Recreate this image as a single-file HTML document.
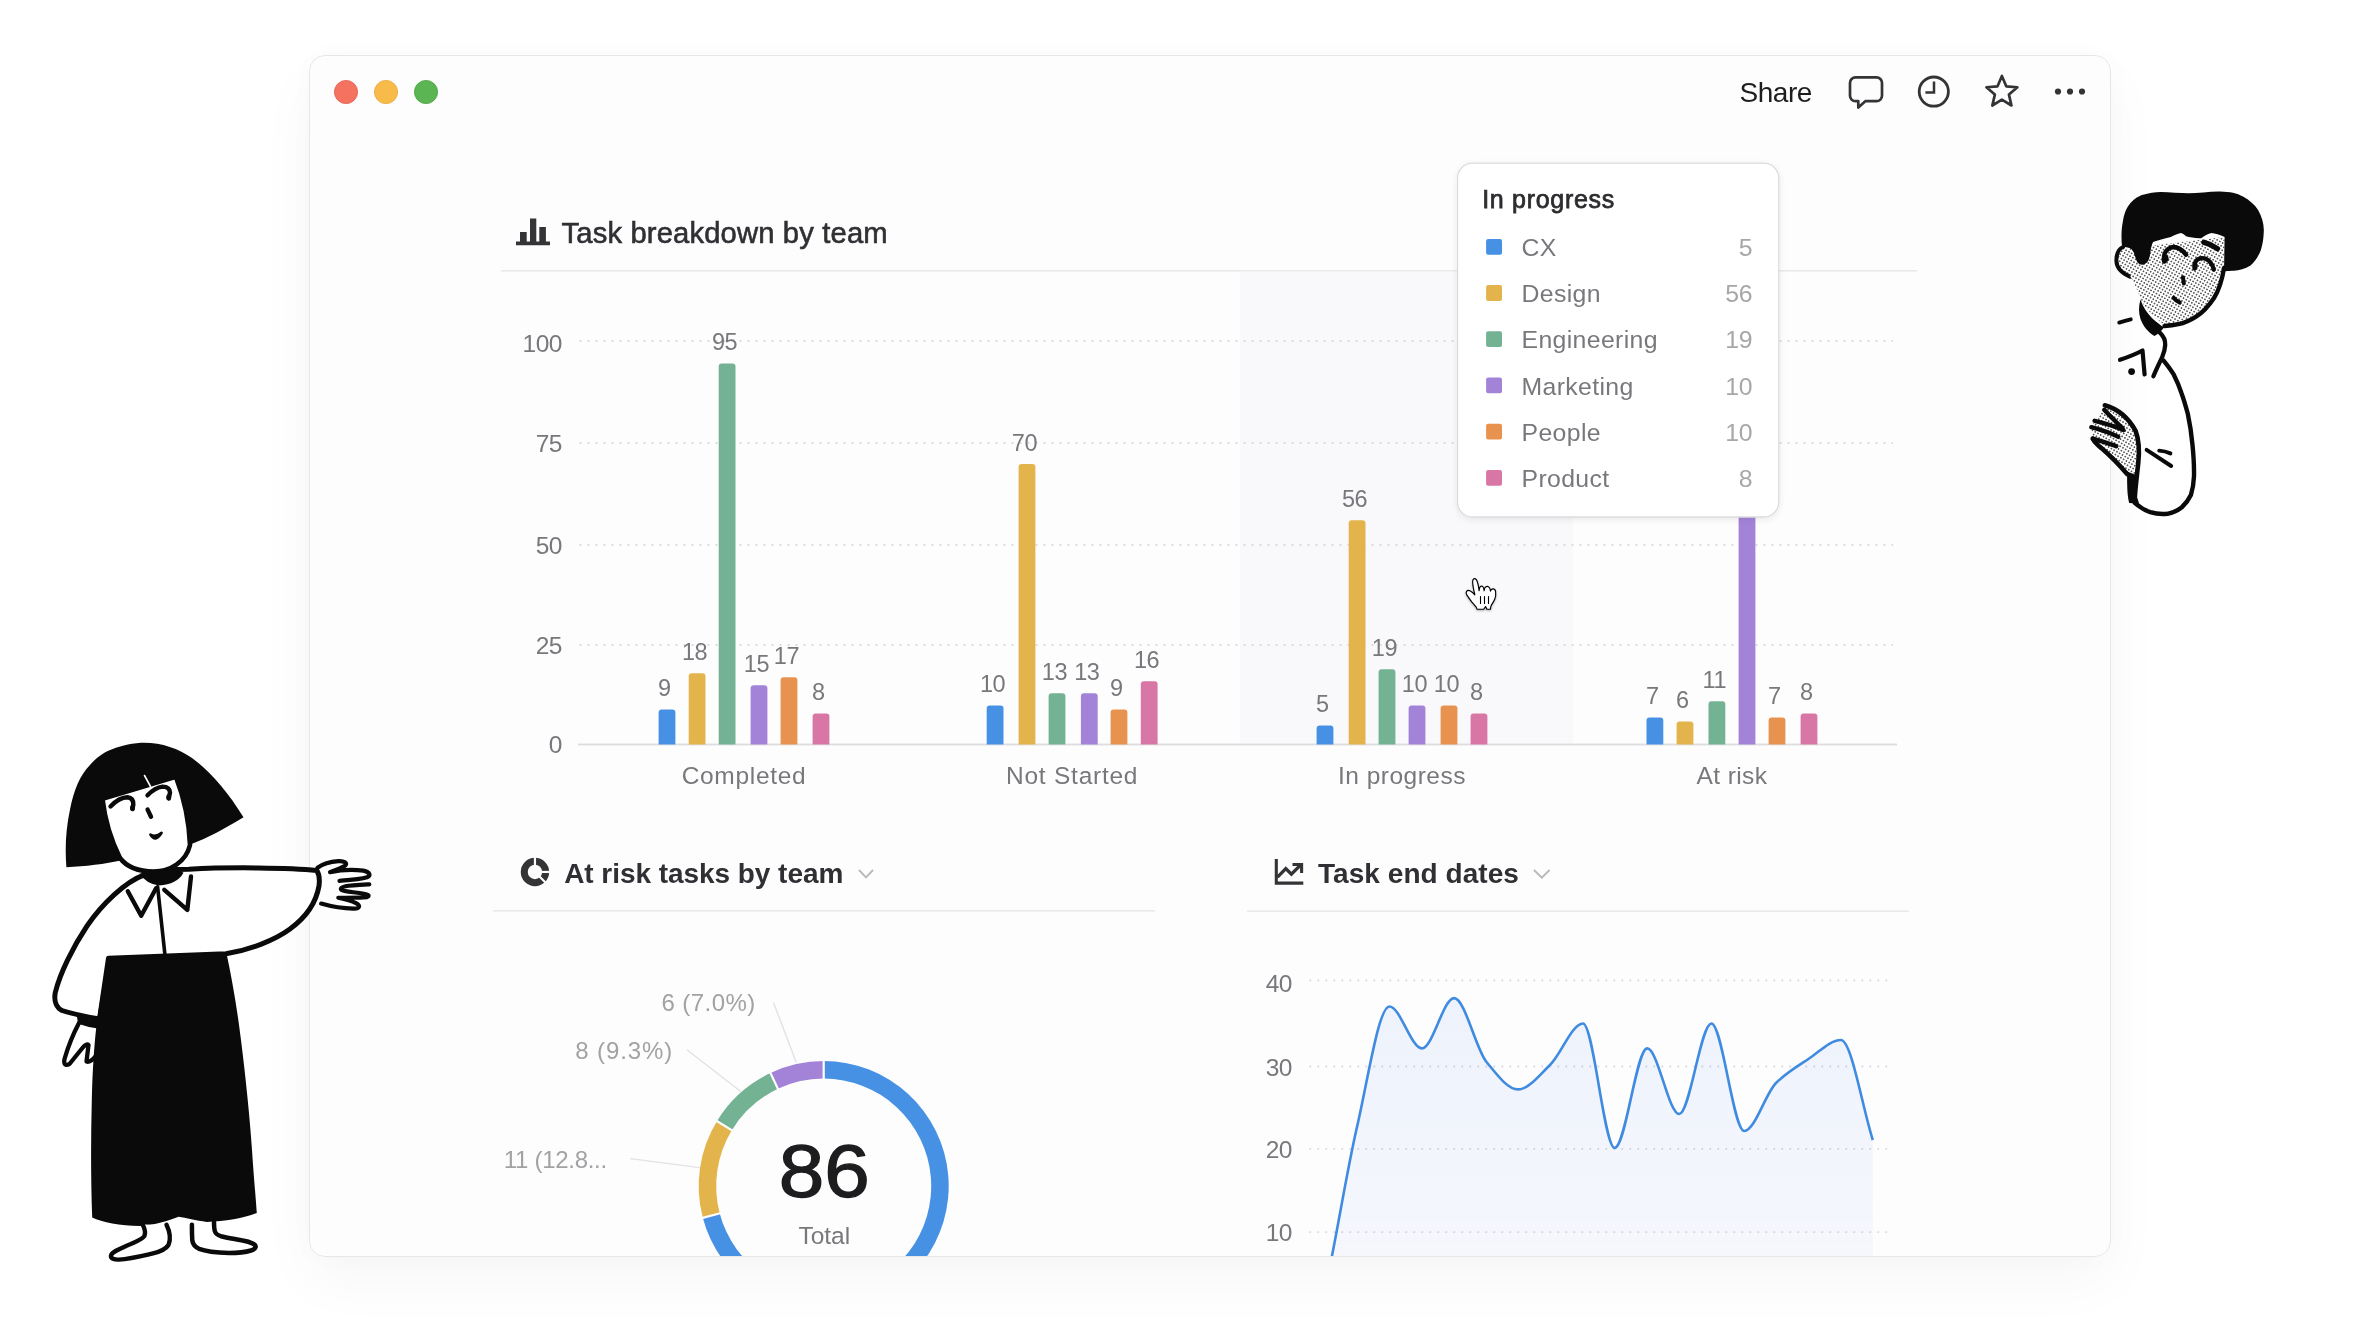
<!DOCTYPE html>
<html><head><meta charset="utf-8"><title>Task breakdown</title>
<style>
html,body{margin:0;padding:0;}
body{width:2370px;height:1344px;overflow:hidden;background:#ffffff;position:relative;font-family:"Liberation Sans", Arial, sans-serif;}
#shadow{position:absolute;left:309px;top:54.5px;width:1802px;height:1202.5px;border-radius:16px;box-shadow:0 24px 60px rgba(0,0,0,0.035),0 0 30px rgba(0,0,0,0.02);}
#win{position:absolute;left:309px;top:54.5px;width:1802px;height:1202.5px;border-radius:16px;overflow:hidden;background:#fefdfe;}
#win svg{position:absolute;left:-309px;top:-54.5px;will-change:transform;}
#border{position:absolute;left:309px;top:54.5px;width:1802px;height:1202.5px;border-radius:16px;box-sizing:border-box;border:1.5px solid #e7e6e8;}
svg text{font-family:"Liberation Sans", Arial, sans-serif;}
#top{position:absolute;left:0;top:0;}
</style></head>
<body>
<div id="shadow"></div>
<div id="win">
<svg width="2370" height="1344" viewBox="0 0 2370 1344">
<defs><filter id="tsh" x="-10%" y="-10%" width="120%" height="125%"><feDropShadow dx="0" dy="2" stdDeviation="3" flood-color="#000" flood-opacity="0.08"/></filter></defs>
<circle cx="346" cy="92" r="11.6" fill="#f4725f" stroke="#e0604f" stroke-width="0.8"/>
<circle cx="386" cy="92" r="11.6" fill="#f8bb49" stroke="#e5a73a" stroke-width="0.8"/>
<circle cx="426" cy="92" r="11.6" fill="#5bb552" stroke="#4aa342" stroke-width="0.8"/>
<text x="1739.5" y="101.9" font-size="28" fill="#1e1e1e" text-anchor="start" font-weight="400" letter-spacing="-0.45">Share</text>
<path d="M1856,77.4 H1876.5 A5.5,5.5 0 0 1 1882,82.9 V95.7 A5.5,5.5 0 0 1 1876.5,101.2 H1865.3 L1858.3,107.6 V101.2 H1855.5 A5.5,5.5 0 0 1 1850,95.7 V82.9 A5.5,5.5 0 0 1 1855.5,77.4 Z" fill="none" stroke="#343336" stroke-width="2.7" stroke-linejoin="round"/>
<circle cx="1933.8" cy="91.6" r="14.6" fill="none" stroke="#343336" stroke-width="2.8"/>
<path d="M1934,81.5 V92.4 H1925.4" fill="none" stroke="#343336" stroke-width="2.5"/>
<polygon points="2001.90,76.00 2006.25,86.31 2017.40,87.26 2008.94,94.59 2011.48,105.49 2001.90,99.70 1992.32,105.49 1994.86,94.59 1986.40,87.26 1997.55,86.31" fill="none" stroke="#343336" stroke-width="2.7" stroke-linejoin="round"/>
<circle cx="2058" cy="91.5" r="3.1" fill="#343336"/>
<circle cx="2070" cy="91.5" r="3.1" fill="#343336"/>
<circle cx="2082" cy="91.5" r="3.1" fill="#343336"/>
<path d="M516,241.4 H550 V245.2 H516 Z M520,232 H526.7 V242 H520 Z M530,218.6 H536.3 V242 H530 Z M539.3,227 H545.9 V242 H539.3 Z" fill="#343336"/>
<text x="561.6" y="242.5" font-size="29.2" fill="#302f33" text-anchor="start" font-weight="400" letter-spacing="0.15" stroke="#302f33" stroke-width="0.6">Task breakdown by team</text>
<rect x="501" y="270" width="1416" height="1.6" fill="#e9e8ea"/>
<rect x="1240" y="271.6" width="333" height="473" fill="#f9f8fa"/>
<line x1="579.6" y1="341" x2="1893" y2="341" stroke="#d9d8db" stroke-width="1.8" stroke-dasharray="1.8 6.2"/>
<line x1="579.6" y1="443" x2="1893" y2="443" stroke="#d9d8db" stroke-width="1.8" stroke-dasharray="1.8 6.2"/>
<line x1="579.6" y1="545" x2="1893" y2="545" stroke="#d9d8db" stroke-width="1.8" stroke-dasharray="1.8 6.2"/>
<line x1="579.6" y1="645" x2="1893" y2="645" stroke="#d9d8db" stroke-width="1.8" stroke-dasharray="1.8 6.2"/>
<rect x="578" y="743.6" width="1319" height="1.8" fill="#dddcdf"/>
<text x="561.7" y="352.2" font-size="24.5" fill="#78777b" text-anchor="end" font-weight="400" letter-spacing="-0.6">100</text>
<text x="561.7" y="451.9" font-size="24.5" fill="#78777b" text-anchor="end" font-weight="400" letter-spacing="-0.6">75</text>
<text x="561.7" y="553.6" font-size="24.5" fill="#78777b" text-anchor="end" font-weight="400" letter-spacing="-0.6">50</text>
<text x="561.7" y="653.6" font-size="24.5" fill="#78777b" text-anchor="end" font-weight="400" letter-spacing="-0.6">25</text>
<text x="561.7" y="753.2" font-size="24.5" fill="#78777b" text-anchor="end" font-weight="400" letter-spacing="-0.6">0</text>
<path d="M658.60,744.5 V712.40 Q658.60,709.40 661.60,709.40 H672.40 Q675.40,709.40 675.40,712.40 V744.5 Z" fill="#4791e5"/>
<text x="664.4" y="696.2" font-size="23.5" fill="#78777b" text-anchor="middle" font-weight="400" letter-spacing="-0.5">9</text>
<path d="M688.70,744.5 V676.20 Q688.70,673.20 691.70,673.20 H702.50 Q705.50,673.20 705.50,676.20 V744.5 Z" fill="#e3b44c"/>
<text x="694.5" y="660.0" font-size="23.5" fill="#78777b" text-anchor="middle" font-weight="400" letter-spacing="-0.5">18</text>
<path d="M718.70,744.5 V366.51 Q718.70,363.51 721.70,363.51 H732.50 Q735.50,363.51 735.50,366.51 V744.5 Z" fill="#74b294"/>
<text x="724.5" y="350.31" font-size="23.5" fill="#78777b" text-anchor="middle" font-weight="400" letter-spacing="-0.5">95</text>
<path d="M750.60,744.5 V688.27 Q750.60,685.27 753.60,685.27 H764.40 Q767.40,685.27 767.40,688.27 V744.5 Z" fill="#a383d8"/>
<text x="756.4" y="672.07" font-size="23.5" fill="#78777b" text-anchor="middle" font-weight="400" letter-spacing="-0.5">15</text>
<path d="M780.60,744.5 V680.23 Q780.60,677.23 783.60,677.23 H794.40 Q797.40,677.23 797.40,680.23 V744.5 Z" fill="#e7934f"/>
<text x="786.4" y="664.03" font-size="23.5" fill="#78777b" text-anchor="middle" font-weight="400" letter-spacing="-0.5">17</text>
<path d="M812.60,744.5 V716.42 Q812.60,713.42 815.60,713.42 H826.40 Q829.40,713.42 829.40,716.42 V744.5 Z" fill="#d876a6"/>
<text x="818.4" y="700.22" font-size="23.5" fill="#78777b" text-anchor="middle" font-weight="400" letter-spacing="-0.5">8</text>
<text x="744.0" y="784" font-size="24.5" fill="#78777b" text-anchor="middle" font-weight="400" letter-spacing="0.69">Completed</text>
<path d="M986.70,744.5 V708.38 Q986.70,705.38 989.70,705.38 H1000.50 Q1003.50,705.38 1003.50,708.38 V744.5 Z" fill="#4791e5"/>
<text x="992.5" y="692.18" font-size="23.5" fill="#78777b" text-anchor="middle" font-weight="400" letter-spacing="-0.5">10</text>
<path d="M1018.60,744.5 V467.06 Q1018.60,464.06 1021.60,464.06 H1032.40 Q1035.40,464.06 1035.40,467.06 V744.5 Z" fill="#e3b44c"/>
<text x="1024.4" y="450.86" font-size="23.5" fill="#78777b" text-anchor="middle" font-weight="400" letter-spacing="-0.5">70</text>
<path d="M1048.60,744.5 V696.31 Q1048.60,693.31 1051.60,693.31 H1062.40 Q1065.40,693.31 1065.40,696.31 V744.5 Z" fill="#74b294"/>
<text x="1054.4" y="680.11" font-size="23.5" fill="#78777b" text-anchor="middle" font-weight="400" letter-spacing="-0.5">13</text>
<path d="M1080.90,744.5 V696.31 Q1080.90,693.31 1083.90,693.31 H1094.70 Q1097.70,693.31 1097.70,696.31 V744.5 Z" fill="#a383d8"/>
<text x="1086.7" y="680.11" font-size="23.5" fill="#78777b" text-anchor="middle" font-weight="400" letter-spacing="-0.5">13</text>
<path d="M1110.60,744.5 V712.40 Q1110.60,709.40 1113.60,709.40 H1124.40 Q1127.40,709.40 1127.40,712.40 V744.5 Z" fill="#e7934f"/>
<text x="1116.4" y="696.2" font-size="23.5" fill="#78777b" text-anchor="middle" font-weight="400" letter-spacing="-0.5">9</text>
<path d="M1140.80,744.5 V684.25 Q1140.80,681.25 1143.80,681.25 H1154.60 Q1157.60,681.25 1157.60,684.25 V744.5 Z" fill="#d876a6"/>
<text x="1146.6" y="668.05" font-size="23.5" fill="#78777b" text-anchor="middle" font-weight="400" letter-spacing="-0.5">16</text>
<text x="1072.15" y="784" font-size="24.5" fill="#78777b" text-anchor="middle" font-weight="400" letter-spacing="0.75">Not Started</text>
<path d="M1316.60,744.5 V728.49 Q1316.60,725.49 1319.60,725.49 H1330.40 Q1333.40,725.49 1333.40,728.49 V744.5 Z" fill="#4791e5"/>
<text x="1322.4" y="712.29" font-size="23.5" fill="#78777b" text-anchor="middle" font-weight="400" letter-spacing="-0.5">5</text>
<path d="M1348.70,744.5 V523.37 Q1348.70,520.37 1351.70,520.37 H1362.50 Q1365.50,520.37 1365.50,523.37 V744.5 Z" fill="#e3b44c"/>
<text x="1354.5" y="507.17" font-size="23.5" fill="#78777b" text-anchor="middle" font-weight="400" letter-spacing="-0.5">56</text>
<path d="M1378.60,744.5 V672.18 Q1378.60,669.18 1381.60,669.18 H1392.40 Q1395.40,669.18 1395.40,672.18 V744.5 Z" fill="#74b294"/>
<text x="1384.4" y="655.98" font-size="23.5" fill="#78777b" text-anchor="middle" font-weight="400" letter-spacing="-0.5">19</text>
<path d="M1408.60,744.5 V708.38 Q1408.60,705.38 1411.60,705.38 H1422.40 Q1425.40,705.38 1425.40,708.38 V744.5 Z" fill="#a383d8"/>
<text x="1414.4" y="692.18" font-size="23.5" fill="#78777b" text-anchor="middle" font-weight="400" letter-spacing="-0.5">10</text>
<path d="M1440.60,744.5 V708.38 Q1440.60,705.38 1443.60,705.38 H1454.40 Q1457.40,705.38 1457.40,708.38 V744.5 Z" fill="#e7934f"/>
<text x="1446.4" y="692.18" font-size="23.5" fill="#78777b" text-anchor="middle" font-weight="400" letter-spacing="-0.5">10</text>
<path d="M1470.60,744.5 V716.42 Q1470.60,713.42 1473.60,713.42 H1484.40 Q1487.40,713.42 1487.40,716.42 V744.5 Z" fill="#d876a6"/>
<text x="1476.4" y="700.22" font-size="23.5" fill="#78777b" text-anchor="middle" font-weight="400" letter-spacing="-0.5">8</text>
<text x="1402.0" y="784" font-size="24.5" fill="#78777b" text-anchor="middle" font-weight="400" letter-spacing="0.48">In progress</text>
<path d="M1646.50,744.5 V720.45 Q1646.50,717.45 1649.50,717.45 H1660.30 Q1663.30,717.45 1663.30,720.45 V744.5 Z" fill="#4791e5"/>
<text x="1652.3" y="704.25" font-size="23.5" fill="#78777b" text-anchor="middle" font-weight="400" letter-spacing="-0.5">7</text>
<path d="M1676.60,744.5 V724.47 Q1676.60,721.47 1679.60,721.47 H1690.40 Q1693.40,721.47 1693.40,724.47 V744.5 Z" fill="#e3b44c"/>
<text x="1682.4" y="708.27" font-size="23.5" fill="#78777b" text-anchor="middle" font-weight="400" letter-spacing="-0.5">6</text>
<path d="M1708.50,744.5 V704.36 Q1708.50,701.36 1711.50,701.36 H1722.30 Q1725.30,701.36 1725.30,704.36 V744.5 Z" fill="#74b294"/>
<text x="1714.3" y="688.16" font-size="23.5" fill="#78777b" text-anchor="middle" font-weight="400" letter-spacing="-0.5">11</text>
<path d="M1738.60,744.5 V499.24 Q1738.60,496.24 1741.60,496.24 H1752.40 Q1755.40,496.24 1755.40,499.24 V744.5 Z" fill="#a383d8"/>
<path d="M1768.60,744.5 V720.45 Q1768.60,717.45 1771.60,717.45 H1782.40 Q1785.40,717.45 1785.40,720.45 V744.5 Z" fill="#e7934f"/>
<text x="1774.4" y="704.25" font-size="23.5" fill="#78777b" text-anchor="middle" font-weight="400" letter-spacing="-0.5">7</text>
<path d="M1800.60,744.5 V716.42 Q1800.60,713.42 1803.60,713.42 H1814.40 Q1817.40,713.42 1817.40,716.42 V744.5 Z" fill="#d876a6"/>
<text x="1806.4" y="700.22" font-size="23.5" fill="#78777b" text-anchor="middle" font-weight="400" letter-spacing="-0.5">8</text>
<text x="1731.95" y="784" font-size="24.5" fill="#78777b" text-anchor="middle" font-weight="400" letter-spacing="0.42">At risk</text>
<path d="M520.75,871.95 a14.2,14.2 0 1 0 28.4,0 a14.2,14.2 0 1 0 -28.4,0 Z M527.75,871.95 a7.2,7.2 0 1 0 14.4,0 a7.2,7.2 0 1 0 -14.4,0 Z" fill="#343336" fill-rule="evenodd"/>
<line x1="534.95" y1="871.95" x2="534.95" y2="855.95" stroke="#fefdfe" stroke-width="2.2"/>
<line x1="534.95" y1="871.95" x2="550.95" y2="871.95" stroke="#fefdfe" stroke-width="2.2"/>
<line x1="534.95" y1="871.95" x2="546.26" y2="883.26" stroke="#fefdfe" stroke-width="2.2"/>
<text x="564.2" y="882.8" font-size="28" fill="#302f33" text-anchor="start" font-weight="700" letter-spacing="-0.05">At risk tasks by team</text>
<path d="M859,870 L866,877.3 L873,870" fill="none" stroke="#b9b8bb" stroke-width="1.9"/>
<rect x="493" y="910" width="662" height="1.6" fill="#e9e8ea"/>
<path d="M823.70,1061.10 A125,125 0 1 1 702.79,1217.82 L719.72,1213.38 A107.5,107.5 0 1 0 823.70,1078.60 Z" fill="#4791e5"/>
<path d="M702.79,1217.82 A125,125 0 0 1 716.89,1121.16 L731.85,1130.25 A107.5,107.5 0 0 0 719.72,1213.38 Z" fill="#e3b44c"/>
<path d="M716.89,1121.16 A125,125 0 0 1 770.48,1073.00 L777.93,1088.83 A107.5,107.5 0 0 0 731.85,1130.25 Z" fill="#74b294"/>
<path d="M770.48,1073.00 A125,125 0 0 1 823.70,1061.10 L823.70,1078.60 A107.5,107.5 0 0 0 777.93,1088.83 Z" fill="#a383d8"/>
<line x1="823.70" y1="1086.10" x2="823.70" y2="1056.10" stroke="#fefdfe" stroke-width="2.2"/>
<line x1="726.97" y1="1211.48" x2="697.96" y2="1219.09" stroke="#fefdfe" stroke-width="2.2"/>
<line x1="738.25" y1="1134.15" x2="712.62" y2="1118.56" stroke="#fefdfe" stroke-width="2.2"/>
<line x1="781.12" y1="1095.62" x2="768.35" y2="1068.47" stroke="#fefdfe" stroke-width="2.2"/>
<line x1="773.5" y1="1002.4" x2="796.3" y2="1062.6" stroke="#e2e1e4" stroke-width="1.4"/>
<line x1="686.9" y1="1049.7" x2="741.1" y2="1091.7" stroke="#e2e1e4" stroke-width="1.4"/>
<line x1="630.2" y1="1158.6" x2="699.8" y2="1167.6" stroke="#e2e1e4" stroke-width="1.4"/>
<text x="661.4" y="1011.3" font-size="24" fill="#a2a1a4" text-anchor="start" font-weight="400" letter-spacing="0.45">6 (7.0%)</text>
<text x="575.2" y="1059.3" font-size="24" fill="#a2a1a4" text-anchor="start" font-weight="400" letter-spacing="0.9">8 (9.3%)</text>
<text x="503.8" y="1167.6" font-size="24" fill="#a2a1a4" text-anchor="start" font-weight="400" letter-spacing="-0.3">11 (12.8...</text>
<text x="824.3" y="1197.4" font-size="73.5" fill="#1d1c1f" text-anchor="middle" font-weight="400" textLength="91" lengthAdjust="spacingAndGlyphs" stroke="#1d1c1f" stroke-width="1.3">86</text>
<text x="824.3" y="1243.5" font-size="24.5" fill="#78777b" text-anchor="middle" font-weight="400" >Total</text>
<path d="M1276.3,859.1 V883.1 H1303.3" fill="none" stroke="#343336" stroke-width="3.1"/>
<path d="M1277.5,877.2 L1285.8,868.6 L1291.4,874.2 L1301.2,864.4" fill="none" stroke="#343336" stroke-width="3.3"/>
<path d="M1292.5,864.5 H1301.6 V873" fill="none" stroke="#343336" stroke-width="3.1"/>
<text x="1318" y="883.1" font-size="28" fill="#302f33" text-anchor="start" font-weight="700" letter-spacing="0.05">Task end dates</text>
<path d="M1534,870 L1541.8,877.6 L1549.6,870" fill="none" stroke="#b9b8bb" stroke-width="1.9"/>
<rect x="1247" y="910.4" width="662" height="1.6" fill="#e9e8ea"/>
<line x1="1309.4" y1="980.5" x2="1888" y2="980.5" stroke="#d9d8db" stroke-width="1.8" stroke-dasharray="1.8 6.2"/>
<line x1="1309.4" y1="1066.5" x2="1888" y2="1066.5" stroke="#d9d8db" stroke-width="1.8" stroke-dasharray="1.8 6.2"/>
<line x1="1309.4" y1="1148.8" x2="1888" y2="1148.8" stroke="#d9d8db" stroke-width="1.8" stroke-dasharray="1.8 6.2"/>
<line x1="1309.4" y1="1232.2" x2="1888" y2="1232.2" stroke="#d9d8db" stroke-width="1.8" stroke-dasharray="1.8 6.2"/>
<text x="1291.8" y="992.4" font-size="24.5" fill="#78777b" text-anchor="end" font-weight="400" letter-spacing="-0.6">40</text>
<text x="1291.8" y="1075.8" font-size="24.5" fill="#78777b" text-anchor="end" font-weight="400" letter-spacing="-0.6">30</text>
<text x="1291.8" y="1157.8" font-size="24.5" fill="#78777b" text-anchor="end" font-weight="400" letter-spacing="-0.6">20</text>
<text x="1291.8" y="1241.2" font-size="24.5" fill="#78777b" text-anchor="end" font-weight="400" letter-spacing="-0.6">10</text>
<defs><linearGradient id="lg" x1="0" y1="0" x2="0" y2="1"><stop offset="0" stop-color="#4a86e8" stop-opacity="0.09"/><stop offset="1" stop-color="#4a86e8" stop-opacity="0.02"/></linearGradient></defs>
<path d="M1292.20,1420.00 C1303.00,1377.33 1313.80,1340.05 1324.60,1292.00 C1335.40,1243.95 1346.20,1173.43 1357.00,1127.00 C1367.80,1080.57 1378.60,1006.50 1389.40,1006.50 C1400.23,1006.50 1411.07,1048.40 1421.90,1048.40 C1432.63,1048.40 1443.37,998.10 1454.10,998.10 C1464.90,998.10 1475.70,1048.99 1486.50,1062.00 C1497.00,1074.65 1507.50,1089.40 1518.00,1089.40 C1528.67,1089.40 1539.33,1075.11 1550.00,1065.00 C1561.00,1054.57 1572.00,1023.50 1583.00,1023.50 C1593.57,1023.50 1604.13,1147.90 1614.70,1147.90 C1625.53,1147.90 1636.37,1048.40 1647.20,1048.40 C1657.87,1048.40 1668.53,1114.00 1679.20,1114.00 C1689.93,1114.00 1700.67,1023.50 1711.40,1023.50 C1722.33,1023.50 1733.27,1131.00 1744.20,1131.00 C1754.80,1131.00 1765.40,1093.55 1776.00,1083.00 C1786.80,1072.26 1797.60,1066.06 1808.40,1059.00 C1819.23,1051.92 1830.07,1040.00 1840.90,1040.00 C1851.53,1040.00 1862.17,1106.67 1872.80,1140.00 L1872.8,1300 L1292.2,1300 Z" fill="url(#lg)"/>
<path d="M1292.20,1420.00 C1303.00,1377.33 1313.80,1340.05 1324.60,1292.00 C1335.40,1243.95 1346.20,1173.43 1357.00,1127.00 C1367.80,1080.57 1378.60,1006.50 1389.40,1006.50 C1400.23,1006.50 1411.07,1048.40 1421.90,1048.40 C1432.63,1048.40 1443.37,998.10 1454.10,998.10 C1464.90,998.10 1475.70,1048.99 1486.50,1062.00 C1497.00,1074.65 1507.50,1089.40 1518.00,1089.40 C1528.67,1089.40 1539.33,1075.11 1550.00,1065.00 C1561.00,1054.57 1572.00,1023.50 1583.00,1023.50 C1593.57,1023.50 1604.13,1147.90 1614.70,1147.90 C1625.53,1147.90 1636.37,1048.40 1647.20,1048.40 C1657.87,1048.40 1668.53,1114.00 1679.20,1114.00 C1689.93,1114.00 1700.67,1023.50 1711.40,1023.50 C1722.33,1023.50 1733.27,1131.00 1744.20,1131.00 C1754.80,1131.00 1765.40,1093.55 1776.00,1083.00 C1786.80,1072.26 1797.60,1066.06 1808.40,1059.00 C1819.23,1051.92 1830.07,1040.00 1840.90,1040.00 C1851.53,1040.00 1862.17,1106.67 1872.80,1140.00" fill="none" stroke="#3f8be0" stroke-width="2.6"/>
<rect x="1457.5" y="163.2" width="321.3" height="353.8" rx="15" fill="#ffffff" stroke="#dbdadd" stroke-width="1.3" filter="url(#tsh)"/>
<text x="1482.2" y="208" font-size="25" fill="#2c2b2e" text-anchor="start" font-weight="400" letter-spacing="0.7" stroke="#2c2b2e" stroke-width="0.75">In progress</text>
<rect x="1486.1" y="238.90" width="15.9" height="15.8" rx="2" fill="#4791e5"/>
<text x="1521.6" y="256.0" font-size="24.8" fill="#78777b" text-anchor="start" font-weight="400" letter-spacing="0.35">CX</text>
<text x="1752.3" y="256.0" font-size="24.8" fill="#a7a6a9" text-anchor="end" font-weight="400" letter-spacing="-0.3">5</text>
<rect x="1486.1" y="285.10" width="15.9" height="15.8" rx="2" fill="#e3b44c"/>
<text x="1521.6" y="302.2" font-size="24.8" fill="#78777b" text-anchor="start" font-weight="400" letter-spacing="0.35">Design</text>
<text x="1752.3" y="302.2" font-size="24.8" fill="#a7a6a9" text-anchor="end" font-weight="400" letter-spacing="-0.3">56</text>
<rect x="1486.1" y="331.30" width="15.9" height="15.8" rx="2" fill="#74b294"/>
<text x="1521.6" y="348.4" font-size="24.8" fill="#78777b" text-anchor="start" font-weight="400" letter-spacing="0.35">Engineering</text>
<text x="1752.3" y="348.4" font-size="24.8" fill="#a7a6a9" text-anchor="end" font-weight="400" letter-spacing="-0.3">19</text>
<rect x="1486.1" y="377.50" width="15.9" height="15.8" rx="2" fill="#a383d8"/>
<text x="1521.6" y="394.6" font-size="24.8" fill="#78777b" text-anchor="start" font-weight="400" letter-spacing="0.35">Marketing</text>
<text x="1752.3" y="394.6" font-size="24.8" fill="#a7a6a9" text-anchor="end" font-weight="400" letter-spacing="-0.3">10</text>
<rect x="1486.1" y="423.70" width="15.9" height="15.8" rx="2" fill="#e7934f"/>
<text x="1521.6" y="440.8" font-size="24.8" fill="#78777b" text-anchor="start" font-weight="400" letter-spacing="0.35">People</text>
<text x="1752.3" y="440.8" font-size="24.8" fill="#a7a6a9" text-anchor="end" font-weight="400" letter-spacing="-0.3">10</text>
<rect x="1486.1" y="469.90" width="15.9" height="15.8" rx="2" fill="#d876a6"/>
<text x="1521.6" y="487.0" font-size="24.8" fill="#78777b" text-anchor="start" font-weight="400" letter-spacing="0.35">Product</text>
<text x="1752.3" y="487.0" font-size="24.8" fill="#a7a6a9" text-anchor="end" font-weight="400" letter-spacing="-0.3">8</text>
</svg>
</div>
<div id="border"></div>
<svg id="top" width="2370" height="1344" viewBox="0 0 2370 1344">
<defs>
<pattern id="dots" width="3.2" height="3.2" patternUnits="userSpaceOnUse" patternTransform="rotate(30)">
<rect width="3.2" height="3.2" fill="#ffffff"/><circle cx="1.6" cy="1.6" r="0.74" fill="#111"/></pattern>
</defs>
<path d="M144.2,874.9 C125,882 102,904 87,926 C73,947 60,973 55.3,992.5 C53.5,1002 57,1008 62,1010.5 C74,1014.5 88,1017 99.5,1019 L108.5,958.2 L226,953.8 C250,950 275,940 290,929 C305,918 316,903 319,886 C320,878 318.5,873 316.8,870.5 C290,867.6 230,867 188.8,869.2 L176.5,869.5 Z" fill="#fff" stroke="#0a0a0a" stroke-linecap="round" stroke-linejoin="round" stroke-width="5.0"/>
<path d="M127.8,891.3 L141.2,915.8 L156.1,888.3 M164.3,889.8 L187.3,909.9 L191,876.4" fill="none" stroke="#0a0a0a" stroke-linecap="round" stroke-linejoin="round" stroke-width="4.4"/>
<path d="M157.6,886.8 L165,955.2" fill="none" stroke="#0a0a0a" stroke-linecap="round" stroke-linejoin="round" stroke-width="3.6"/>
<path d="M139.5,873.8 Q156,870 170,869.2 L177,868.8 L183.5,872.8 Q177,884.5 159,885.4 Q147,884.5 139.5,873.8 Z" fill="#0a0a0a"/>
<path d="M175.9,776.8 C183,795 189,820 190,845 C186,862 170,871.5 153.7,871.5 C137,871.5 126,866 120,858 C112,842 105,820 102.5,798.9 Z" fill="#fff" stroke="#0a0a0a" stroke-linecap="round" stroke-linejoin="round" stroke-width="4.6"/>
<path d="M66.4,867.3 C65,850 65.5,830 70.2,808.4 C74,790 80,775 90,765 C100,753 115,745 141.1,742.7 C160,742 178,748 192,758 C210,771 228,792 243.5,817.3 C226,828 208,838 190.4,844.5 C189,820 184,798 175.9,776.8 C152,786 128,794 102.5,798.9 C106,825 113,845 122.1,860.3 C105,864 85,866.5 66.4,867.3 Z" fill="#0a0a0a"/>
<path d="M144.5,775.5 L150.5,786.5" stroke="#fff" stroke-width="1.6" stroke-linecap="round"/>
<path d="M110.5,806.5 Q119,797.5 127.5,797.3 Q133.5,798 133.3,804.5 L132.5,809" fill="none" stroke="#0a0a0a" stroke-linecap="round" stroke-linejoin="round" stroke-width="4.4"/>
<ellipse cx="132.4" cy="808" rx="2.4" ry="3" fill="#0a0a0a"/>
<path d="M147.5,795.3 Q155,787.5 162.5,786.6 Q169.8,786.8 170,792.5 L168.8,798.5" fill="none" stroke="#0a0a0a" stroke-linecap="round" stroke-linejoin="round" stroke-width="4.4"/>
<ellipse cx="168.6" cy="797.3" rx="2.4" ry="3" fill="#0a0a0a"/>
<path d="M147.6,809.6 L151,816.8" fill="none" stroke="#0a0a0a" stroke-linecap="round" stroke-linejoin="round" stroke-width="4.4"/>
<path d="M150.4,834.6 Q155.5,843 161.6,832.8 Q156,837.5 150.4,834.6 Z" fill="#0a0a0a" stroke="#0a0a0a" stroke-linecap="round" stroke-linejoin="round" stroke-width="2.6"/>
<path d="M79,1023 Q70,1040 64.5,1059 Q63,1067 69.5,1064 L82,1048.5 Q86.5,1043 88.5,1045 L86.5,1061.5 Q90,1063 96,1056" fill="#fff" stroke="#0a0a0a" stroke-linecap="round" stroke-linejoin="round" stroke-width="4.3"/>
<path d="M77,1016.5 Q88,1019.5 100,1020.5 L99.5,1028.8 Q88,1027.5 78,1023.8 Z" fill="#0a0a0a"/>
<path d="M108.5,957.5 L226.5,953.3 C231,975 236,1000 241,1040 C246,1080 250,1120 252,1150 C254,1180 256,1200 256.8,1213 C245,1218 225,1221.5 206.8,1222 C196,1220.5 186,1218 178.6,1216.8 C168,1221 155,1225 140,1226 C120,1226 102,1222 92.2,1217.5 C90.8,1180 90.8,1140 91.8,1100 C92.8,1060 95.5,1025 100.3,1000 C103,982 106,968 108.5,957.5 Z" fill="#0a0a0a"/>
<path d="M142.6,1224.5 C144.5,1228 145.5,1233 144.4,1236 C143,1238.5 136,1242 126,1246 C118,1249.5 112,1252 111,1255.5 C110.5,1258.5 114,1259.8 119,1259.6 C130,1259 142,1256 152,1253.7 C160,1251.8 166,1249 168.5,1245 C170.5,1240 170,1232 166.5,1224.8" fill="#fff" stroke="#0a0a0a" stroke-linecap="round" stroke-linejoin="round" stroke-width="4.4"/>
<path d="M191.9,1224.7 C191.9,1230 192,1236 192.3,1240.7 C193,1245 195,1247 199,1248.8 C205,1251 215,1252.5 229.1,1253 C238,1253 246,1252 251,1250.5 C256,1249 257,1246 253.7,1244 C250,1242 246,1241 241.4,1240.3 C232,1238.5 226,1237.5 220.9,1236.2 C217,1235 215.5,1233.5 214.8,1231 C214,1228 214,1225 214,1221.5" fill="#fff" stroke="#0a0a0a" stroke-linecap="round" stroke-linejoin="round" stroke-width="4.5"/>
<path d="M317.5,867.8 C322,864.5 330,861.8 338.3,861.2 C344.5,860.8 347.5,863.3 345.5,865.3 C343,867.8 335,869.8 330,872.2 C340,870 352,869.3 363.3,870.6 C370.3,872 371,875.5 367,877.3 C360,879.5 348,880.2 339.5,880.8" fill="#fff" stroke="#0a0a0a" stroke-linecap="round" stroke-linejoin="round" stroke-width="4.2"/>
<path d="M369.3,884.3 C360,884.8 350,885.3 345.5,886.2 C339,887.8 339.5,890.3 345.5,891.2 C352,892.2 360,893 366,894.2 C371,895.7 368,897.3 363.3,897.4 C355,897.8 345,897.7 338.3,897.8 C345,899.2 352,901.2 356,903.2 C361.5,905.8 359,908.6 354.4,908.6 C345,908.7 330,906.2 321.1,903.6" fill="none" stroke="#0a0a0a" stroke-linecap="round" stroke-linejoin="round" stroke-width="4.2"/>
<path d="M2163.6,360.6 C2168,366 2171,370 2173.8,374.7 C2177,381 2179.5,387 2181.6,393.4 C2184,400 2186,407 2187.8,413.8 C2190,424 2191.5,434 2192.5,445 C2193.5,455 2194.2,466 2194,476.3 C2193.7,484 2192.5,490 2190.9,495 C2188,501 2185,504.5 2181.6,507.5 C2177,511 2172,513 2167.5,513.8 C2161,514.5 2155.5,513.8 2150.3,512.2 C2144,510 2139,506.5 2134.7,502.8" fill="#fff" stroke="#0a0a0a" stroke-linecap="round" stroke-linejoin="round" stroke-width="4.4"/>
<path d="M2104.8,405.3 L2115.9,409.5 L2127.9,418.1 L2135.6,430.9 L2139,446.3 L2138.2,463.5 L2135.6,478 L2127.1,473.7 L2114.2,459.2 L2101.4,448.1 L2092.8,438 L2091,427 L2094.5,420.7 L2104,409.5 Z" fill="url(#dots)"/>
<path d="M2127.1,471.5 L2136.2,475 L2135,497 L2137,503.5 L2129.2,503 C2127.5,497 2127,488 2127.1,471.5 Z" fill="#0a0a0a"/>
<path d="M2104.8,405.3 C2116,408.5 2128,417 2135.6,430.9 C2139,440 2139.5,452 2138.2,463.5 C2137,475 2135.4,487 2134.8,497.7 L2136.5,502.8" fill="none" stroke="#0a0a0a" stroke-linecap="round" stroke-linejoin="round" stroke-width="4.6"/>
<path d="M2127.1,474 C2121,467 2114,459 2101.4,448.1 C2097,444.5 2094,441.5 2092.8,438.6" fill="none" stroke="#0a0a0a" stroke-linecap="round" stroke-linejoin="round" stroke-width="4.6"/>
<path d="M2092.8,438.6 C2100,441 2109,443.5 2116.3,446.3 M2091.3,427.2 C2100,429.5 2110,432.8 2118.3,436.9 M2094.6,420.8 C2104,423 2115,426.2 2123.4,430.1 M2104.2,409.8 C2110,416 2116,422 2122.6,428.4" fill="none" stroke="#0a0a0a" stroke-linecap="round" stroke-linejoin="round" stroke-width="4.4"/>
<path d="M2159.7,332.5 C2163.5,336 2165.5,340 2165.2,345 C2165,350 2163.5,354 2162.2,357 C2159,364 2156,370 2153.4,376.3" fill="none" stroke="#0a0a0a" stroke-linecap="round" stroke-linejoin="round" stroke-width="4.3"/>
<path d="M2120,359.8 C2127,357.5 2136,354 2142.5,350.5 L2144.6,374.5" fill="none" stroke="#0a0a0a" stroke-linecap="round" stroke-linejoin="round" stroke-width="4.2"/>
<circle cx="2131.6" cy="371.6" r="3.4" fill="#0a0a0a"/>
<path d="M2146.6,449.8 L2171.2,466 M2159.2,450.6 Q2165,451 2170.4,453.4" fill="none" stroke="#0a0a0a" stroke-linecap="round" stroke-linejoin="round" stroke-width="3.9"/>
<path d="M2119.2,322.6 Q2125,320.5 2130.8,319.3" fill="none" stroke="#0a0a0a" stroke-linecap="round" stroke-linejoin="round" stroke-width="3.8"/>
<path d="M2123,247 C2118.5,249 2116.3,254 2116.4,261 C2116.6,267 2120,272.5 2130.4,276.8 L2137,268 L2134,250 Z" fill="url(#dots)"/>
<path d="M2123,247 C2118.5,249 2116.3,254 2116.4,261 C2116.6,267 2120,272.5 2130.4,276.8" fill="none" stroke="#0a0a0a" stroke-linecap="round" stroke-linejoin="round" stroke-width="4"/>
<path d="M2130,248 L2224.6,236.9 L2224,271.1 C2222,281 2219,290 2214,298 C2208,307 2202,313 2196.1,316.6 C2190,320.5 2184,323 2178.4,324.2 C2173,325.3 2169,325.7 2165.8,325.5 C2155,318 2146,310 2141,300 C2138,292 2135,284 2130.4,276.8 Z" fill="url(#dots)"/>
<path d="M2224,268 C2222,281 2219,290 2214,298 C2208,307 2202,313 2196.1,316.6 C2190,320.5 2184,323 2178.4,324.2 C2173,325.3 2169,325.7 2164.5,326" fill="none" stroke="#0a0a0a" stroke-linecap="round" stroke-linejoin="round" stroke-width="4.4"/>
<path d="M2140.5,299.5 C2138.5,306 2138.5,313 2140.5,319 C2143,326 2148,332 2154.4,336 C2158,334 2161,331.5 2164,327.5 C2157,323 2150,317 2145.5,310 C2143,306 2141.5,302.5 2140.5,299.5 Z" fill="#0a0a0a"/>
<path d="M2122.1,247 C2121,238 2121.5,228 2122.8,222 C2124,214 2126,209 2129,205 C2133,199.5 2137,197 2142,195 C2149,193 2155,192 2160.7,192 C2170,192 2180,193.3 2188.5,193.3 C2198,193.2 2210,191.2 2220.2,191.4 C2230,191.6 2237,193 2243,196.5 C2250,200.5 2255,205 2258.1,210 C2262,217 2264,224 2263.8,231 C2263.5,240 2262.5,245 2260.6,250.8 C2258,257 2254.5,262 2250.5,265.5 C2245,269 2239,270.5 2234.1,270.8 C2230,271 2227,271.2 2224,271.1 L2224.6,236.9 C2220,235 2215,233.5 2211.3,233.1 C2207,234 2204,236.5 2201.2,238.2 C2196,238.5 2190,237.5 2186,236.3 C2184,234.5 2182.5,233.5 2181,233.1 C2177,234 2174,235.5 2170.8,236.9 C2164,238.5 2158,240 2153.1,242 C2151.5,245 2151,248 2150.6,250.8 C2150,255 2149.5,258.5 2148.1,261 C2146.5,263.5 2144,264.7 2141.7,264.7 C2139.5,264.5 2137.5,263 2136.7,261 C2135.5,258 2134.8,255.5 2134.2,253.4 C2133,250.5 2131.5,249 2130.4,248.3 C2128,247.3 2125,247 2122.1,247 Z" fill="#0a0a0a"/>
<path d="M2164.3,261.5 C2163.2,256 2165,250 2170.8,247.5 C2176.5,246 2182.5,249.5 2186,254.6" fill="none" stroke="#0a0a0a" stroke-linecap="round" stroke-linejoin="round" stroke-width="4.6"/>
<path d="M2194.6,268.5 C2193.8,263.5 2196,259.5 2199.9,258.4 C2204,257.5 2208,259.5 2210.5,262.5 C2212,264.5 2213.2,267 2213.8,269.6" fill="none" stroke="#0a0a0a" stroke-linecap="round" stroke-linejoin="round" stroke-width="4.4"/>
<path d="M2204,242.3 Q2211,244 2217.4,248.6" fill="none" stroke="#0a0a0a" stroke-linecap="round" stroke-linejoin="round" stroke-width="5.4"/>
<ellipse cx="2166" cy="258.5" rx="2.6" ry="3.6" fill="#0a0a0a"/>
<ellipse cx="2195.2" cy="265.8" rx="2.6" ry="3.4" fill="#0a0a0a"/>
<path d="M2182.9,277.2 L2183.9,283.6" fill="none" stroke="#0a0a0a" stroke-linecap="round" stroke-linejoin="round" stroke-width="4"/>
<path d="M2173.6,297.8 Q2176.5,301.5 2179.7,302.6" fill="none" stroke="#0a0a0a" stroke-linecap="round" stroke-linejoin="round" stroke-width="4.2"/>
<defs><filter id="csh" x="-30%" y="-30%" width="160%" height="160%"><feDropShadow dx="0" dy="1" stdDeviation="0.8" flood-color="#000" flood-opacity="0.3"/></filter></defs>
<path d="M1474.8,594.8 C1474,591 1473,587 1472.7,583.4 C1472.4,580.5 1473.2,578.8 1474.6,578.6 C1476,578.5 1476.8,580 1477.4,582 C1478.2,584.5 1478.8,587.5 1479.1,590.6 C1479.3,588.6 1479.5,587 1480.5,586.4 C1481.6,585.8 1483,586.3 1483.5,587.6 C1483.8,588.6 1484,589.7 1484.1,590.8 C1484.3,589.2 1484.6,587.6 1485.6,587 C1486.8,586.3 1488.6,586.6 1489.4,587.8 C1490,588.8 1490.3,590 1490.5,591.1 C1490.8,590 1491.6,589.1 1492.8,588.9 C1494.2,588.8 1495.3,589.8 1495.6,591.6 C1495.9,594 1495.6,597 1494.8,599 C1493.8,601.6 1492.2,603.6 1491.2,605.4 C1490.6,606.6 1490.5,608 1490.5,609.2 L1486.9,609.2 C1486.5,608.2 1486.1,607.2 1485.5,606.5 C1485,607.4 1484.4,608.4 1483.8,609.2 L1477,609.2 C1476.7,608.2 1476.4,607.4 1476,606.8 C1474.5,605 1473,603.4 1471.7,601.8 C1470,599.6 1468.3,597.2 1466.8,594.9 C1466,593.7 1465.9,592.3 1466.6,591.4 C1467.4,590.4 1469,590.3 1470.3,590.9 C1472,591.8 1473.6,593.4 1474.8,594.8 Z" fill="#fff" stroke="#000" stroke-width="1.15" stroke-linejoin="round" filter="url(#csh)"/>
<path d="M1480.5,596.6 V603.4 M1484.5,596.6 V603.4 M1488.5,596.6 V603.4" stroke="#000" stroke-width="1.1" stroke-linecap="round"/>
</svg>
</body></html>
